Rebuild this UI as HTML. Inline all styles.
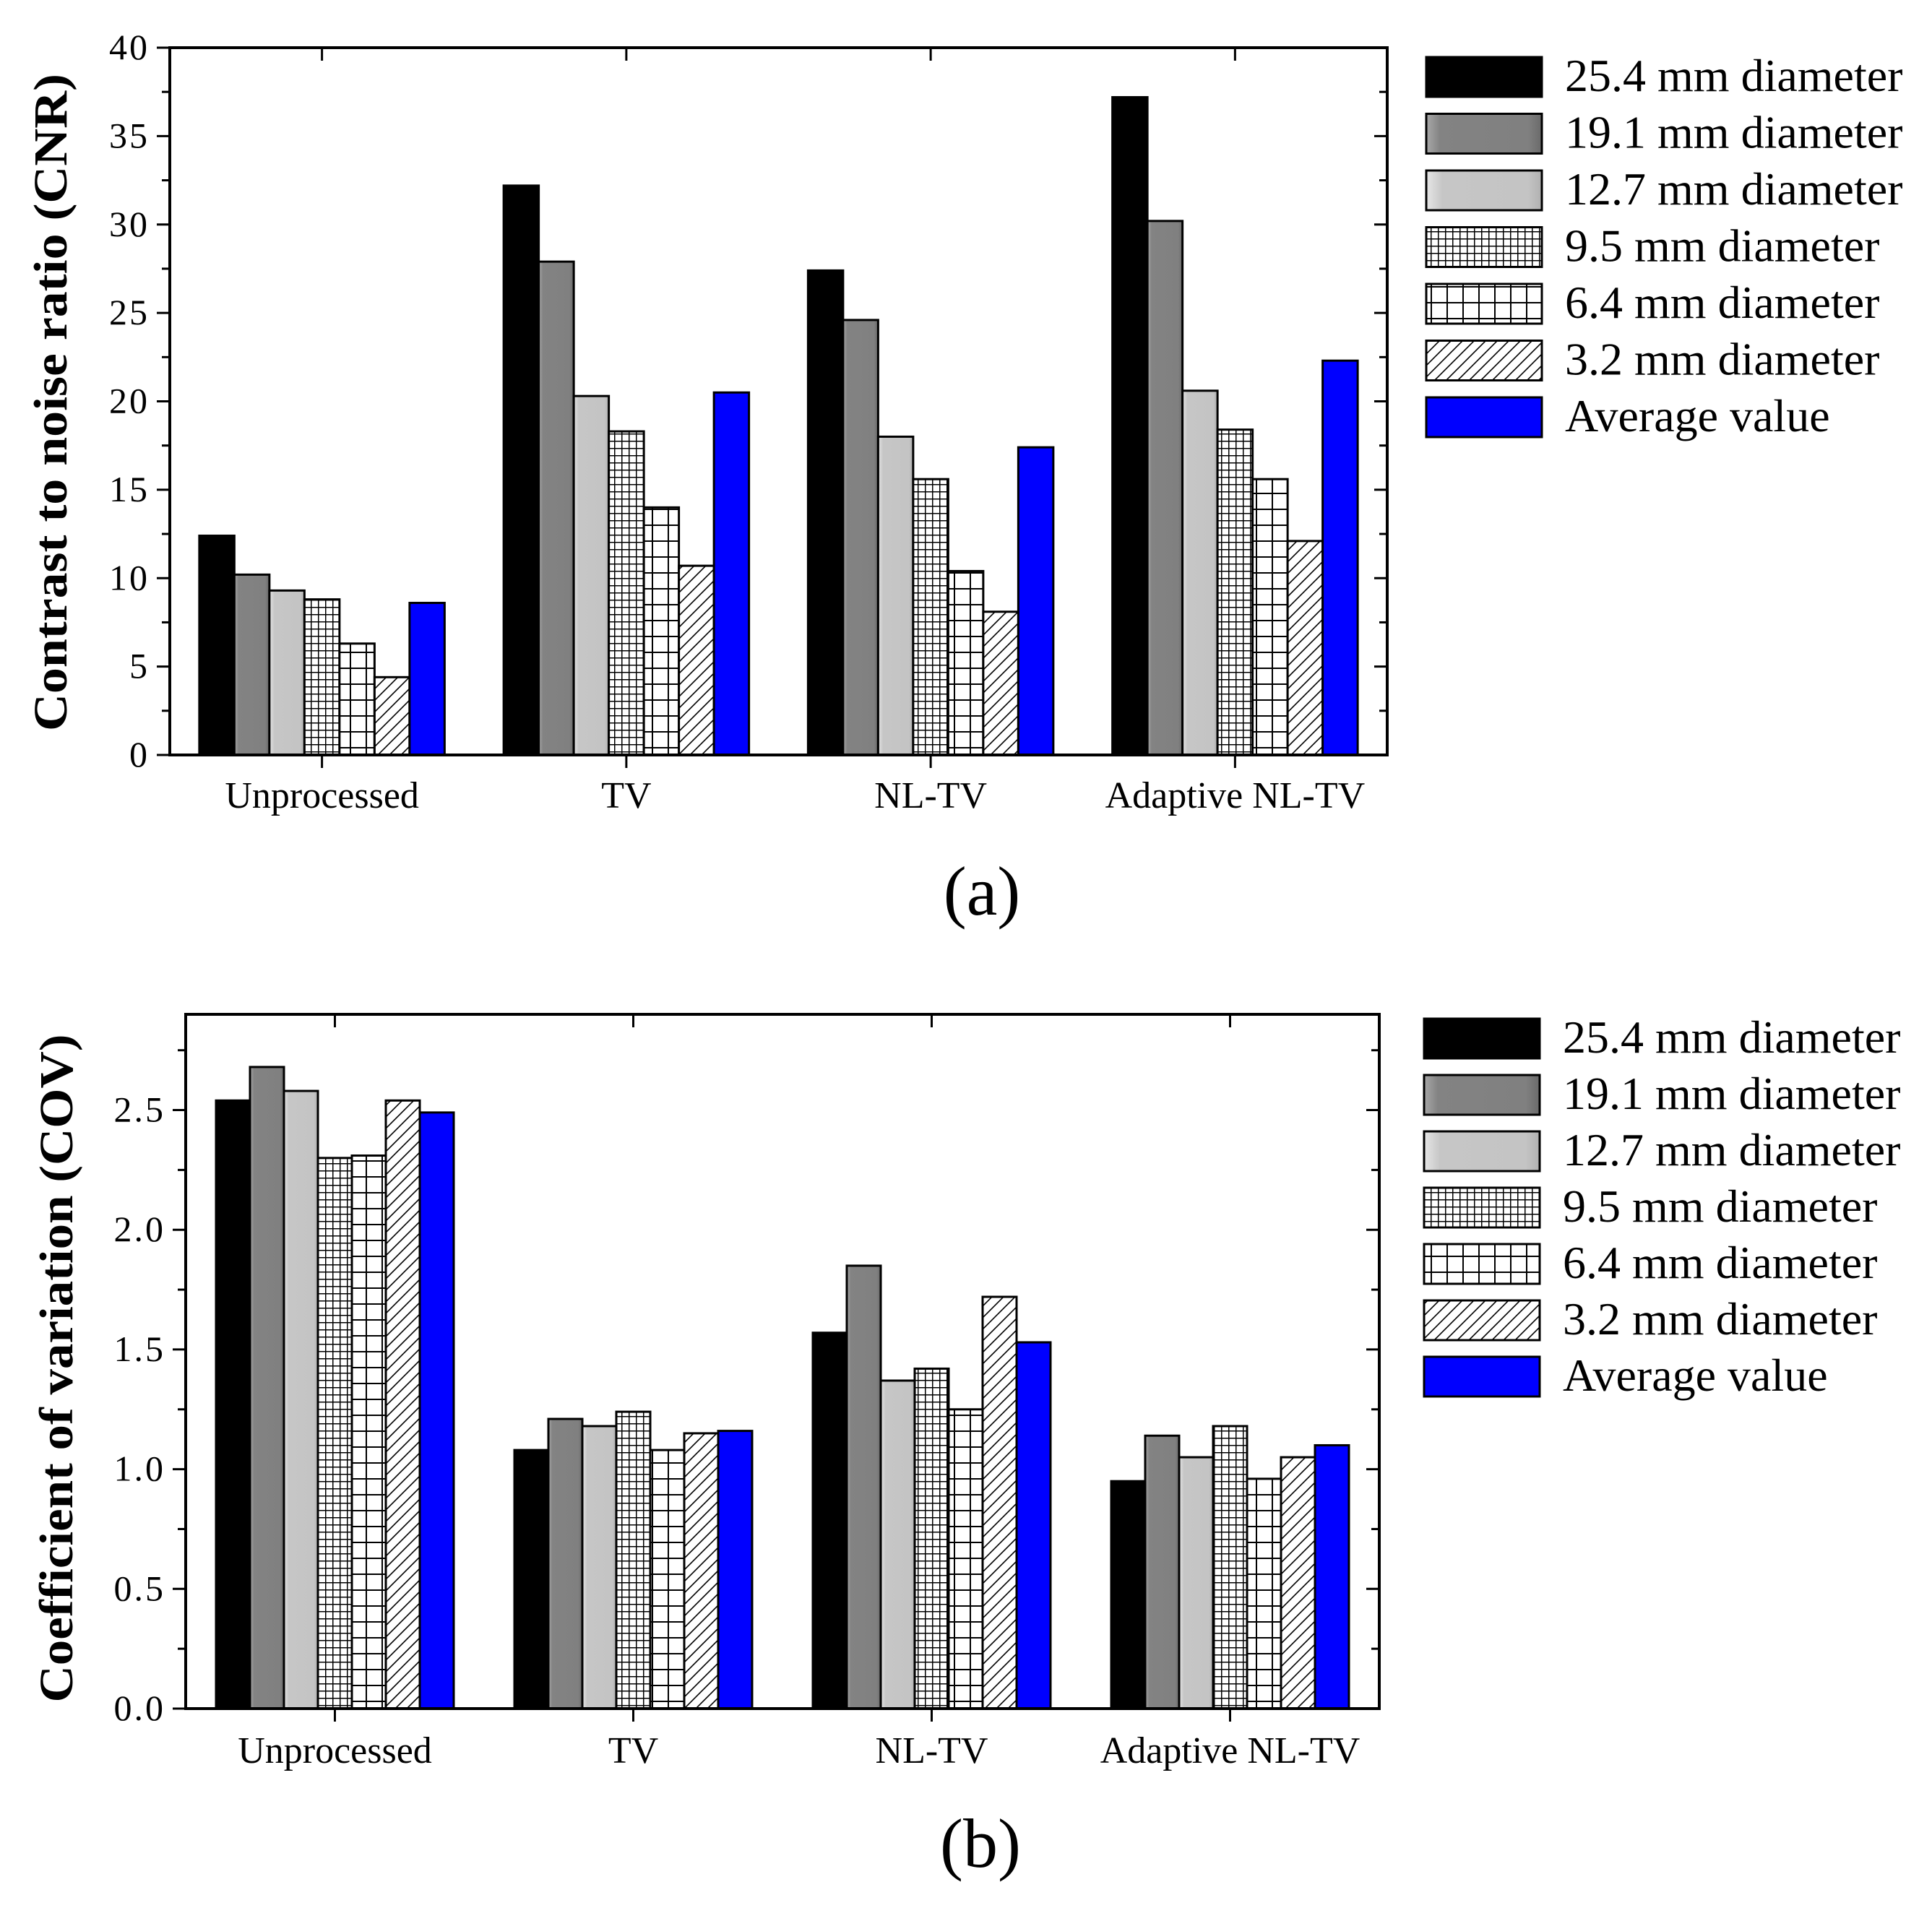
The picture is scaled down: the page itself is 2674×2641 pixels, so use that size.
<!DOCTYPE html>
<html><head><meta charset="utf-8"><style>
html,body{margin:0;padding:0;background:#fff;}
svg{display:block;}
text{font-family:"Liberation Serif",serif;fill:#000;}
</style></head>
<body>
<svg id="fig" width="2674" height="2641" viewBox="0 0 2674 2641" xmlns="http://www.w3.org/2000/svg">
<defs>
<pattern id="pFine" width="10" height="10" patternUnits="userSpaceOnUse"><rect width="10" height="10" fill="#fff"/><path d="M0 0.75H10M0.75 0V10" stroke="#000" stroke-width="1.5"/></pattern>
<pattern id="pCoarse" width="22" height="22" patternUnits="userSpaceOnUse"><rect width="22" height="22" fill="#fff"/><path d="M0 1H22M1 0V22" stroke="#000" stroke-width="2"/></pattern>
<pattern id="pDiag" width="16" height="16" patternUnits="userSpaceOnUse"><rect width="16" height="16" fill="#fff"/><path d="M-4 20L20 -4M-4 4L4 -4M12 20L20 12" stroke="#000" stroke-width="1.6"/></pattern>
<linearGradient id="gMid" x1="0" x2="1"><stop offset="0" stop-color="#a8a8a8"/><stop offset="0.12" stop-color="#838383"/><stop offset="0.88" stop-color="#808080"/><stop offset="1" stop-color="#6a6a6a"/></linearGradient>
<linearGradient id="gLight" x1="0" x2="1"><stop offset="0" stop-color="#e6e6e6"/><stop offset="0.14" stop-color="#c6c6c6"/><stop offset="0.88" stop-color="#c4c4c4"/><stop offset="1" stop-color="#b0b0b0"/></linearGradient>
</defs>
</svg>
<script>
const categories = ["Unprocessed", "TV", "NL-TV", "Adaptive NL-TV"];
const seriesNames = ["25.4 mm diameter", "19.1 mm diameter", "12.7 mm diameter", "9.5 mm diameter", "6.4 mm diameter", "3.2 mm diameter", "Average value"];
const cnr254 = [12.4, 32.2, 27.4, 37.2];
const cnr191 = [10.2, 27.9, 24.6, 30.2];
const cnr127 = [9.3, 20.3, 18.0, 20.6];
const cnr95 = [8.8, 18.3, 15.6, 18.4];
const cnr64 = [6.3, 14.0, 10.4, 15.6];
const cnr32 = [4.4, 10.7, 8.1, 12.1];
const cnrAvg = [8.6, 20.5, 17.4, 22.3];
const cov254 = [2.54, 1.08, 1.57, 0.95];
const cov191 = [2.68, 1.21, 1.85, 1.14];
const cov127 = [2.58, 1.18, 1.37, 1.05];
const cov95 = [2.30, 1.24, 1.42, 1.18];
const cov64 = [2.31, 1.08, 1.25, 0.96];
const cov32 = [2.54, 1.15, 1.72, 1.05];
const covAvg = [2.49, 1.16, 1.53, 1.10];
const cnrTicks = [0, 5, 10, 15, 20, 25, 30, 35, 40];
const covTicks = [0.0, 0.5, 1.0, 1.5, 2.0, 2.5];

const fills = ["#000", "url(#gMid)", "url(#gLight)", "url(#pFine)", "url(#pCoarse)", "url(#pDiag)", "#0000ff"];
const NS = "http://www.w3.org/2000/svg";
const svg = document.getElementById("fig");
function el(tag, attrs, parent) {
  const e = document.createElementNS(NS, tag);
  for (const k in attrs) e.setAttribute(k, attrs[k]);
  (parent || svg).appendChild(e);
  return e;
}

function drawChart(cfg) {
  const g = el("g", {});
  
  
  const L = cfg.left, R = cfg.right, T = cfg.top, B = cfg.bottom;
  const yS = v => B - (v - cfg.ymin) / (cfg.ymax - cfg.ymin) * (B - T);
  const step = (R - L) / categories.length;
  const xS = i => L + step * (i + 0.5);
  cfg.series.forEach((arr, s) => {
    arr.forEach((v, i) => {
      const x = xS(i) - cfg.bw * 3.5 + s * cfg.bw;
      const r = el("rect", {x: x, y: yS(v), width: cfg.bw, height: B - yS(v), fill: fills[s], stroke: "#000", "stroke-width": 3}, g);
      
      
    });
  });
  const fr = el("rect", {x: L, y: T, width: R - L, height: B - T, fill: "none", stroke: "#000", "stroke-width": 4}, g);
  
  
  const yt = cfg.ticks;
  const minor = (yt[1] - yt[0]) / 2;
  for (let v = cfg.ymin; v <= cfg.ymax + 1e-9; v += minor) {
    const isMajor = Math.abs(Math.round(v / (yt[1] - yt[0])) * (yt[1] - yt[0]) - v) < 1e-6;
    const len = isMajor ? 18 : 11;
    el("line", {x1: L - len, x2: L, y1: yS(v), y2: yS(v), stroke: "#000", "stroke-width": 3}, g);
    el("line", {x1: R - len, x2: R, y1: yS(v), y2: yS(v), stroke: "#000", "stroke-width": 3}, g);
  }
  yt.forEach(v => {
    const t = el("text", {x: L - 28, y: yS(v) + 16, "text-anchor": "end", "font-size": 50, "letter-spacing": 3}, g);
    t.textContent = cfg.fmt(v);
    
    
  });
  categories.forEach((c, i) => {
    el("line", {x1: xS(i), x2: xS(i), y1: B, y2: B + 18, stroke: "#000", "stroke-width": 3}, g);
    el("line", {x1: xS(i), x2: xS(i), y1: T, y2: T + 18, stroke: "#000", "stroke-width": 3}, g);
    const t = el("text", {x: xS(i), y: cfg.catY, "text-anchor": "middle", "font-size": 52}, g);
    t.textContent = c;
    
    
  });
  const yt2 = el("text", {x: 0, y: 0, "text-anchor": "middle", "font-size": 66, "font-weight": "bold", transform: "translate(" + cfg.titleX + "," + cfg.titleY + ") rotate(-90)", textLength: cfg.titleLen, lengthAdjust: "spacingAndGlyphs"}, g);
  yt2.textContent = cfg.title;
  
  
  seriesNames.forEach((n, s) => {
    const y = cfg.legTop + s * cfg.legStep;
    const b = el("rect", {x: cfg.legX, y: y, width: 160, height: 55, fill: fills[s], stroke: "#000", "stroke-width": 3}, g);
    
    
    const t = el("text", {x: cfg.legX + 192, y: y + 47, "font-size": 64}, g);
    t.textContent = n;
    
    
  });
  const p = el("text", {x: cfg.panelX, y: cfg.panelY, "text-anchor": "middle", "font-size": 96}, g);
  p.textContent = cfg.panel;
  
  
}

drawChart({name: "cnr-chart", left: 235, right: 1920, top: 66, bottom: 1045, ymin: 0, ymax: 40,
  bw: 48.5, series: [cnr254, cnr191, cnr127, cnr95, cnr64, cnr32, cnrAvg], ticks: cnrTicks,
  fmt: v => String(v), catY: 1118, title: "Contrast to noise ratio (CNR)", titleX: 92, titleY: 557, titleLen: 910,
  legX: 1974, legTop: 79, legStep: 78.5, panel: "(a)", panelX: 1359, panelY: 1266});

drawChart({name: "cov-chart", left: 257, right: 1909, top: 1404, bottom: 2365, ymin: 0, ymax: 2.9,
  bw: 47, series: [cov254, cov191, cov127, cov95, cov64, cov32, covAvg], ticks: covTicks,
  fmt: v => v.toFixed(1), catY: 2440, title: "Coefficient of variation (COV)", titleX: 100, titleY: 1894, titleLen: 925,
  legX: 1971, legTop: 1410, legStep: 78, panel: "(b)", panelX: 1357, panelY: 2584});
</script>
</body></html>
